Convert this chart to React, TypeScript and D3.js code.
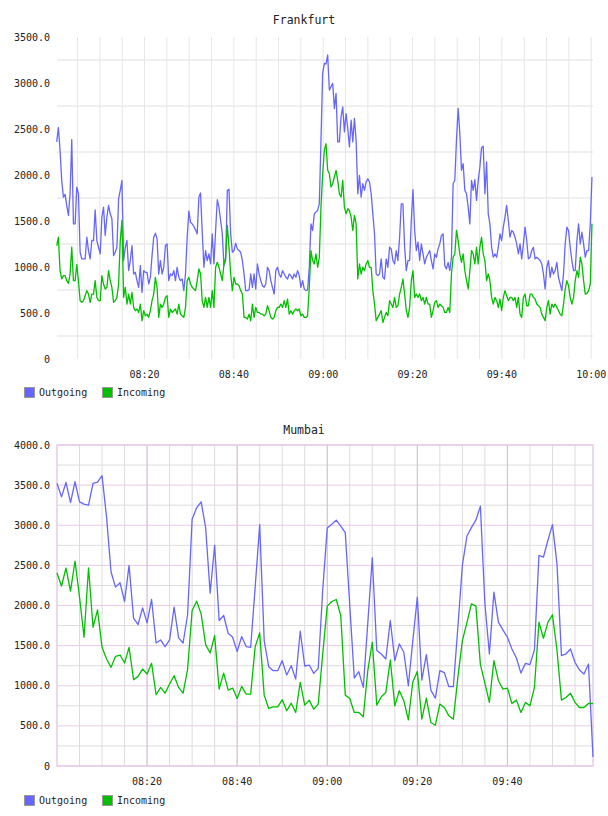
import React from "react";
import * as d3 from "d3";

// ---------- DATA ----------
const SERIES_NAMES = ["Outgoing", "Incoming"];
const TOP_TITLE = "Frankfurt";
const BOTTOM_TITLE = "Mumbai";

// Frankfurt samples, evenly spaced between these two timestamps
const FRA_START = "08:00:20";
const FRA_END = "10:00:10";
const FRA_OUT = [
  2360, 2516, 2269, 1942, 1760, 1789, 1669, 1560, 1796, 2385,
  1469, 1469, 1869, 1796, 1160, 1088, 1088, 1088, 1324, 1179,
  1088, 1288, 1288, 1622, 1288, 1215, 1142, 1542, 1651, 1342,
  1542, 1669, 1578, 1524, 1124, 1160, 1215, 1742, 1833, 1942,
  1070, 1215, 1288, 961, 1070, 1233, 924, 942, 852, 779, 1015, 724, 961, 942, 942, 815, 888,
  1124, 1324, 1368, 1306,
  924, 1070, 924, 997, 1233, 1251, 852, 924, 906, 961,
  852, 997, 888, 852, 870, 743, 924, 1324, 1607, 1487,
  1469, 1440, 1404, 1360, 1760, 1804, 1378, 997, 1179, 1070,
  1142, 1033, 1360, 1033, 1397, 1731, 1651, 1506, 1360, 1015,
  1070, 1833, 1844, 1360, 1160, 1179, 1259, 1197, 1179, 1160,
  1070, 924, 743, 743, 750, 924, 779, 924, 761, 1033,
  924, 852, 797, 779, 815, 997, 961, 852, 779, 706,
  961, 997, 924, 888, 961, 924, 888, 870, 924, 906,
  870, 924, 888, 961, 906, 779, 852, 761, 743, 750,
  997, 1469, 1397, 1578, 1597, 1615, 1687, 2378, 3105,
  3214, 3206, 3304, 2923, 2959, 2996, 2723, 2887, 2360, 2360,
  2632, 2741, 2469, 2668, 2505, 2305, 2596, 2360, 2614, 2378,
  1796, 1996, 1760, 1905, 1833, 1924, 1960, 1924, 1796, 1578,
  1360, 924, 906, 924, 1088, 888, 870, 1088, 997, 1215,
  1197, 1070, 1033, 1179, 1070, 1324, 1687, 1687, 1215, 961,
  1070, 1070, 1506, 1840, 1397, 1179, 1270, 1070, 1251, 1142,
  1033, 1106, 1142, 1179, 1070, 979, 1142, 1106, 1197, 1251,
  1342, 1360, 1015, 979, 1051, 961, 1106, 1905, 1942, 2378,
  2723, 2450, 2051, 2123, 1833, 1796, 1651, 1469, 1942, 1833,
  1949, 1724, 1942, 2087, 2298, 2312, 1796, 2142, 1578, 1469,
  1215, 1106, 1142, 1106, 1215, 1360, 1288, 1433, 1542, 1669,
  1506, 1324, 1397, 1378, 1324, 1251, 1142, 1251, 1088, 1251,
  1433, 1288, 1088, 1106, 1179, 1215, 1088, 1106, 1088, 1070,
  1033, 924, 761, 997, 1070, 888, 997, 924, 961, 1051,
  888, 815, 743, 924, 1251, 1433, 1397, 1215, 1070, 961,
  961, 1288, 1469, 1251, 1378, 1251, 1106, 1179, 1179, 1469,
  1978,
];
const FRA_IN = [
  1233, 1324, 961, 870, 906, 906, 852, 823, 924, 1215,
  852, 852, 1026, 852, 634, 615, 634, 688, 743, 706,
  615, 706, 706, 852, 670, 634, 634, 906, 815, 761,
  779, 961, 852, 779, 615, 634, 670, 815, 1288, 1506,
  670, 779, 597, 706, 597, 724, 561, 525, 543, 506, 597, 416, 525, 470, 488, 452, 525,
  634, 706, 888, 779,
  452, 597, 561, 597, 670, 688, 452, 543, 506, 525,
  543, 488, 597, 488, 470, 452, 561, 852, 888, 815,
  779, 761, 743, 852, 979, 924, 634, 561, 670, 561,
  670, 561, 743, 561, 997, 1051, 997, 924, 852, 1033,
  1106, 1451, 1215, 924, 743, 888, 815, 815, 797, 743,
  706, 452, 452, 434, 488, 416, 597, 452, 561, 506,
  506, 488, 488, 470, 488, 579, 525, 452, 434, 452,
  525, 561, 561, 597, 561, 634, 561, 652, 488, 525,
  488, 525, 543, 525, 543, 470, 488, 452, 452, 470,
  779, 1179, 1070, 1033, 1142, 997, 1106, 1651, 2014,
  2269, 2341, 2051, 2014, 1869, 1905, 1978, 2051, 1942, 1796,
  1760, 1942, 1651, 1578, 1633, 1615, 1542, 1397, 1560, 1469,
  870, 1033, 924, 997, 961, 1033, 1070, 997, 997, 743,
  597, 416, 452, 488, 525, 397, 452, 506, 470, 634,
  597, 561, 670, 561, 579, 706, 779, 870, 706, 525,
  452, 561, 852, 961, 670, 706, 670, 706, 634, 670,
  597, 670, 597, 597, 452, 525, 615, 634, 561, 597,
  579, 561, 506, 506, 561, 506, 924, 1106, 1142, 1397,
  1288, 1142, 1051, 1142, 961, 852, 761, 961, 1179, 1142,
  1033, 1215, 1033, 1215, 1324, 1142, 1070, 852, 924, 852,
  670, 597, 670, 634, 561, 652, 525, 670, 743, 688,
  634, 670, 670, 634, 670, 561, 670, 488, 452, 670,
  706, 579, 579, 706, 706, 670, 652, 597, 579, 561,
  488, 452, 416, 561, 634, 488, 597, 561, 597, 561,
  525, 488, 470, 597, 761, 852, 797, 670, 597, 670,
  852, 961, 888, 1106, 1033, 852, 706, 713, 743, 815,
  1469,
];

// Mumbai: one sample per minute from 08:00
const MUM_START = "08:00:00";
const MUM_STEP_MIN = 1;
const MUM_OUT = [
  3521, 3354, 3533, 3283, 3542, 3292, 3263, 3250, 3521, 3538,
  3617, 3104, 2417, 2229, 2283, 2050, 2500, 1842, 1763, 1971,
  1783, 2075, 1533, 1571, 1488, 1571, 1979, 1596, 1533, 1888,
  3075, 3217, 3292, 2971, 2154, 2750, 1813, 1875, 1654, 1604,
  1425, 1613, 1488, 1479, 2229, 3008, 1563, 1238, 1188, 1188,
  1313, 1133, 1250, 1083, 1679, 1246, 1258, 1154, 1217, 2200,
  2967, 3013, 3063, 2988, 2908, 2000, 1096, 1175, 979, 1780,
  2596, 1438, 1396, 1333, 1813, 1313, 1521, 1417, 1000, 1563,
  2104, 1071, 1388, 946, 846, 1188, 1163, 988, 988, 1729,
  2500, 2863, 2971, 3063, 3238, 2021, 1396, 2167, 1792, 1696,
  1604, 1458, 1346, 1158, 1279, 1263, 1446, 2625, 2604, 2813,
  3008, 2521, 1375, 1396, 1458, 1292, 1196, 1146, 1271, 113,
];
const MUM_IN = [
  2404, 2242, 2467, 2179, 2554, 2104, 1604, 2467, 1729, 1946,
  1479, 1333, 1229, 1367, 1383, 1283, 1479, 1075, 1117, 1208,
  1146, 1279, 888, 979, 908, 1021, 1125, 979, 908, 1208,
  1938, 2054, 1896, 1513, 1408, 1625, 958, 1158, 946, 971,
  842, 992, 896, 896, 1488, 1658, 883, 717, 738, 738,
  825, 688, 783, 667, 1042, 758, 821, 708, 771, 1400,
  1992, 2050, 2075, 1875, 883, 842, 667, 667, 613, 1188,
  1542, 758, 863, 917, 1321, 750, 938, 813, 575, 1050,
  1179, 583, 846, 542, 508, 771, 729, 625, 583, 1104,
  1563, 1783, 2021, 1992, 1263, 1029, 792, 1313, 1063, 958,
  971, 779, 821, 667, 792, 750, 979, 1792, 1592, 1792,
  1883, 1446, 821, 854, 908, 792, 729, 729, 779, 779,
];

const FRA_Y_TICKS = [0, 500, 1000, 1500, 2000, 2500, 3000, 3500];
const MUM_Y_TICKS = [0, 500, 1000, 1500, 2000, 2500, 3000, 3500, 4000];
const FRA_X_DOMAIN = ["08:00:24", "10:00:24"];
const MUM_X_DOMAIN = ["08:00:00", "09:59:00"];

// ---------- HELPERS ----------
const parse = (s: string) => {
  const [h, m, sec] = s.split(":").map(Number);
  return new Date(2000, 0, 1, h, m, sec || 0);
};
const fmt = d3.timeFormat("%H:%M");

const BLUE = "#6666ff";
const GREEN = "#00c000";
const FONT = "'DejaVu Sans Mono', monospace";

type ChartProps = {
  title: string;
  titleY: number;
  top: number;
  bottom: number;
  yMax: number;
  yTicks: number[];
  xDomain: Date[];
  out: { t: Date; v: number }[];
  inc: { t: Date; v: number }[];
  pinkGrid: boolean;
  legendY: number;
  xLabelY: number;
};

const LEFT = 57;
const RIGHT = 593;

function Chart(p: ChartProps) {
  const x = d3.scaleTime().domain(p.xDomain).range([LEFT, RIGHT]);
  const y = d3.scaleLinear().domain([0, p.yMax]).range([p.bottom, p.top]);
  const line = d3
    .line<{ t: Date; v: number }>()
    .x((d) => x(d.t))
    .y((d) => y(d.v));

  const minorX = x.ticks(d3.timeMinute.every(5)!).filter((d) => x(d) > LEFT + 1 && x(d) <= RIGHT + 0.5);
  const majorX = x.ticks(d3.timeMinute.every(20)!).filter((d) => x(d) > LEFT + 1 && x(d) <= RIGHT + 0.5);
  const halfY: number[] = d3.range(250, p.yMax, 500);

  const gridGrey = p.pinkGrid ? "#dcdcdc" : "#e6e6e6";
  const pink = "#e6cce6";
  const pinkDark = "#d9bcd9";

  return (
    <g>
      <text x={304} y={p.titleY} textAnchor="middle" fontFamily={FONT} fontSize={11.5} fill="#222">
        {p.title}
      </text>
      {/* horizontal minor grid */}
      {halfY.map((v) => (
        <line key={"h" + v} x1={LEFT} x2={RIGHT} y1={y(v)} y2={y(v)}
          stroke={p.pinkGrid ? gridGrey : "#f0f0f0"} strokeWidth={p.pinkGrid ? 1 : 2} />
      ))}
      {/* vertical minor grid */}
      {minorX.map((d) => (
        <line key={"v" + +d} x1={x(d)} x2={x(d)} y1={p.top} y2={p.bottom}
          stroke={gridGrey} strokeWidth={1} />
      ))}
      {p.pinkGrid &&
        p.yTicks.map((v) => (
          <line key={"hp" + v} x1={LEFT} x2={RIGHT} y1={y(v)} y2={y(v)} stroke={pink} strokeWidth={1} />
        ))}
      {p.pinkGrid &&
        majorX.map((d) => (
          <line key={"vp" + +d} x1={x(d)} x2={x(d)} y1={p.top} y2={p.bottom} stroke={pinkDark} strokeWidth={1} />
        ))}
      {p.pinkGrid && (
        <rect x={LEFT} y={p.top} width={RIGHT - LEFT} height={p.bottom - p.top}
          fill="none" stroke={pink} strokeWidth={1.5} />
      )}
      {/* y labels */}
      {p.yTicks.map((v) => (
        <text key={"yl" + v} x={50} y={y(v) + 3.5} textAnchor="end" fontFamily={FONT} fontSize={10} fill="#222">
          {v === 0 ? "0" : v.toFixed(1)}
        </text>
      ))}
      {/* x labels */}
      {majorX.map((d) => (
        <text key={"xl" + +d} x={x(d)} y={p.xLabelY} textAnchor="middle" fontFamily={FONT} fontSize={10} fill="#222">
          {fmt(d)}
        </text>
      ))}
      <path d={line(p.out) || ""} fill="none" stroke={BLUE} strokeWidth={1.3} strokeLinejoin="round" />
      <path d={line(p.inc) || ""} fill="none" stroke={GREEN} strokeWidth={1.3} strokeLinejoin="round" />
      {/* legend */}
      {SERIES_NAMES.map((name, i) => {
        const lx = i === 0 ? 24 : 102;
        return (
          <g key={name}>
            <rect x={lx + 0.5} y={p.legendY + 0.5} width={10} height={10}
              fill={i === 0 ? BLUE : GREEN} stroke="#999" strokeWidth={1} />
            <text x={lx + 15} y={p.legendY + 9} fontFamily={FONT} fontSize={10} fill="#222">
              {name}
            </text>
          </g>
        );
      })}
    </g>
  );
}

export default function App() {
  const fs = parse(FRA_START);
  const fe = parse(FRA_END);
  const n = FRA_OUT.length;
  const fraTime = (i: number, len: number) =>
    new Date(+fs + ((+fe - +fs) * i) / (len - 1));
  const fraOut = FRA_OUT.map((v, i) => ({ t: fraTime(i, FRA_OUT.length), v }));
  const fraIn = FRA_IN.map((v, i) => ({ t: fraTime(i, FRA_IN.length), v }));
  const ms = parse(MUM_START);
  const mumT = (i: number) => d3.timeMinute.offset(ms, i * MUM_STEP_MIN);
  const mumOut = MUM_OUT.map((v, i) => ({ t: mumT(i), v }));
  const mumIn = MUM_IN.map((v, i) => ({ t: mumT(i), v }));
  void n;

  return (
    <svg width={608} height={816} style={{ position: "absolute", left: 0, top: 0, background: "#fff" }}>
      <rect width={608} height={816} fill="#fff" />
      <Chart
        title={TOP_TITLE}
        titleY={24}
        top={37}
        bottom={359}
        yMax={3500}
        yTicks={FRA_Y_TICKS}
        xDomain={FRA_X_DOMAIN.map(parse)}
        out={fraOut}
        inc={fraIn}
        pinkGrid={false}
        legendY={387}
        xLabelY={378}
      />
      <Chart
        title={BOTTOM_TITLE}
        titleY={434}
        top={445}
        bottom={766}
        yMax={4000}
        yTicks={MUM_Y_TICKS}
        xDomain={MUM_X_DOMAIN.map(parse)}
        out={mumOut}
        inc={mumIn}
        pinkGrid={true}
        legendY={795}
        xLabelY={785}
      />
    </svg>
  );
}
